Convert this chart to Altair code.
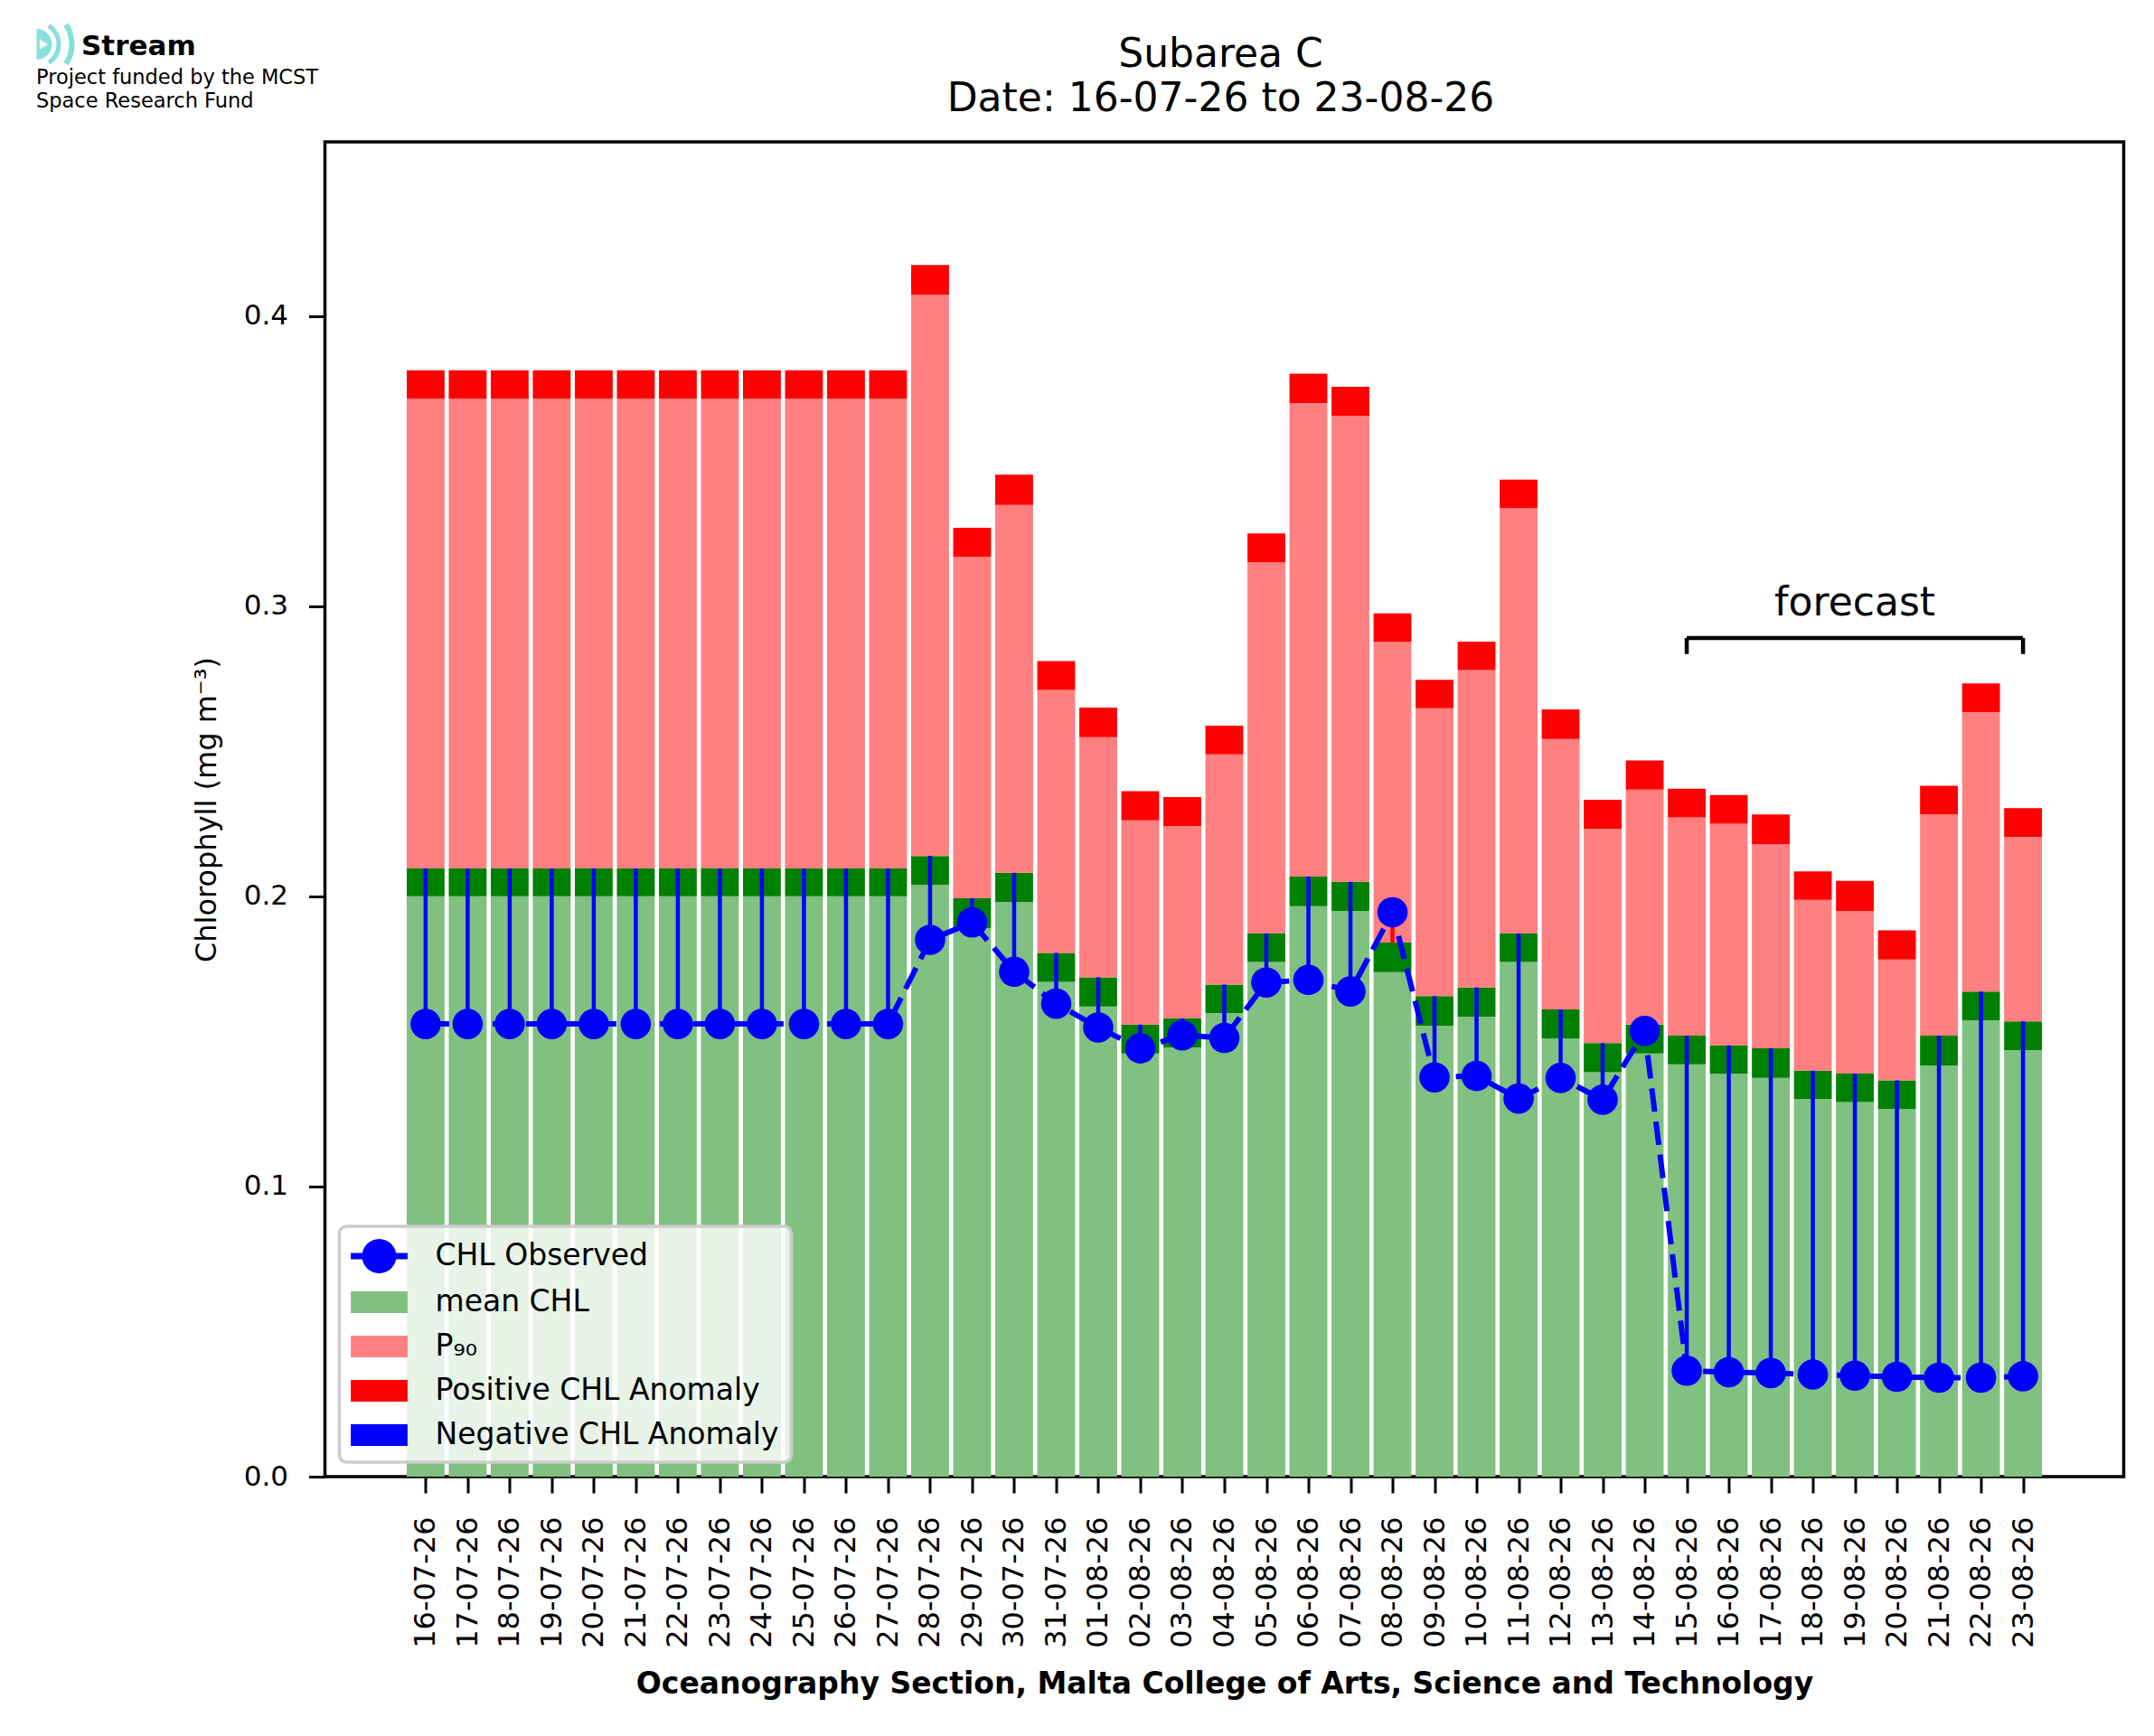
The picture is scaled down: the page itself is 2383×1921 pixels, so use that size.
import json
import altair as alt
import pandas as pd

# ---------------- data ----------------
dates = [
    "16-07-26", "17-07-26", "18-07-26", "19-07-26", "20-07-26", "21-07-26",
    "22-07-26", "23-07-26", "24-07-26", "25-07-26", "26-07-26", "27-07-26",
    "28-07-26", "29-07-26", "30-07-26", "31-07-26", "01-08-26", "02-08-26",
    "03-08-26", "04-08-26", "05-08-26", "06-08-26", "07-08-26", "08-08-26",
    "09-08-26", "10-08-26", "11-08-26", "12-08-26", "13-08-26", "14-08-26",
    "15-08-26", "16-08-26", "17-08-26", "18-08-26", "19-08-26", "20-08-26",
    "21-08-26", "22-08-26", "23-08-26",
]

# top of the light-green "mean CHL" bar
mean_chl = [
    0.200, 0.200, 0.200, 0.200, 0.200, 0.200, 0.200, 0.200, 0.200, 0.200,
    0.200, 0.200, 0.204, 0.189, 0.198, 0.1705, 0.162, 0.1458, 0.1479, 0.1598,
    0.1774, 0.1966, 0.195, 0.1739, 0.1554, 0.1585, 0.1774, 0.151, 0.1394, 0.1458,
    0.1421, 0.1388, 0.1374, 0.1301, 0.1291, 0.1267, 0.1417, 0.1573, 0.147,
]

# top of the dark-green band (anomaly threshold)
threshold = [
    0.2096, 0.2096, 0.2096, 0.2096, 0.2096, 0.2096, 0.2096, 0.2096, 0.2096, 0.2096,
    0.2096, 0.2096, 0.2139, 0.1993, 0.2081, 0.1805, 0.1721, 0.1558, 0.1579, 0.1696,
    0.1872, 0.2068, 0.205, 0.1841, 0.1656, 0.1686, 0.1872, 0.161, 0.1494, 0.1558,
    0.152, 0.1486, 0.1476, 0.1399, 0.1389, 0.1366, 0.152, 0.1672, 0.1569,
]

# top of the light-red "P90" bar
p90 = [
    0.3715, 0.3715, 0.3715, 0.3715, 0.3715, 0.3715, 0.3715, 0.3715, 0.3715, 0.3715,
    0.3715, 0.3715, 0.4073, 0.317, 0.3349, 0.2711, 0.2548, 0.2262, 0.2242, 0.2489,
    0.3151, 0.370, 0.3656, 0.2877, 0.2648, 0.278, 0.3338, 0.2542, 0.2232, 0.2368,
    0.2272, 0.225, 0.2179, 0.1988, 0.195, 0.1782, 0.2282, 0.2635, 0.2205,
]

# top of the red band above P90
p90_top = [
    0.3813, 0.3813, 0.3813, 0.3813, 0.3813, 0.3813, 0.3813, 0.3813, 0.3813, 0.3813,
    0.3813, 0.3813, 0.4176, 0.327, 0.3453, 0.2811, 0.265, 0.2362, 0.2342, 0.2588,
    0.3251, 0.3801, 0.3756, 0.2975, 0.2746, 0.2878, 0.3436, 0.2644, 0.2333, 0.2468,
    0.2371, 0.2349, 0.2282, 0.2086, 0.2053, 0.1883, 0.2381, 0.2734, 0.2304,
]

observed = [
    0.156, 0.156, 0.156, 0.156, 0.156, 0.156, 0.156, 0.156, 0.156, 0.156,
    0.156, 0.156, 0.185, 0.191, 0.174, 0.163, 0.1548, 0.1476, 0.1521, 0.1512,
    0.1703, 0.1712, 0.1672, 0.1945, 0.1376, 0.1381, 0.1303, 0.1374, 0.1299, 0.1536,
    0.0365, 0.036, 0.0357, 0.0352, 0.0348, 0.0344, 0.0341, 0.0341, 0.0346,
]

legend_labels = ["CHL Observed", "mean CHL", "P\u2089\u2080",
                 "Positive CHL Anomaly", "Negative CHL Anomaly"]
legend_colors = ["#0000ff", "#80c080", "#ff8080", "#ff0000", "#0000ff"]

forecast_first = "15-08-26"
forecast_last = "23-08-26"
forecast_bracket_y = 0.289
forecast_bracket_foot = 0.2835
forecast_text_y = 0.2967

title_lines = ["Subarea C", "Date: 16-07-26 to 23-08-26"]
x_title = "Oceanography Section, Malta College of Arts, Science and Technology"
y_title = "Chlorophyll (mg m\u207b\u00b3)"
y_ticks = [0.0, 0.1, 0.2, 0.3, 0.4]

# ---------------- tables ----------------
df = pd.DataFrame({
    "idx": list(range(len(dates))),
    "date": dates,
    "mean": mean_chl,
    "thr": threshold,
    "p90": p90,
    "p90top": p90_top,
    "obs": observed,
})

i0 = dates.index(forecast_first)
i1 = dates.index(forecast_last)
bracket_h = pd.DataFrame({"xs": [i0], "xe": [i1], "y": [forecast_bracket_y]})
bracket_v = pd.DataFrame({"x": [i0, i1], "y": [forecast_bracket_y] * 2,
                          "yb": [forecast_bracket_foot] * 2})
forecast_df = pd.DataFrame({"x": [(i0 + i1) / 2], "y": [forecast_text_y], "t": ["forecast"]})

FONT = "DejaVu Sans"
W, H = 1990, 1477
n = len(dates)
X_SCALE = alt.Scale(domain=[-0.45 - 0.05 * (n - 0.1), n - 1 + 0.45 + 0.05 * (n - 0.1)],
                    nice=False, zero=False)
Y_SCALE = alt.Scale(domain=[0, 0.46], nice=False, zero=False)

x_axis = alt.Axis(
    values=list(range(n)),
    labelExpr=json.dumps(dates) + "[datum.value]",
    labelAngle=270, labelFontSize=32, labelFont=FONT, labelColor="black",
    labelPadding=26, tickSize=18, tickWidth=3, tickColor="black",
    domain=False, grid=False,
    title=x_title, titleFont=FONT, titleFontSize=33, titleFontWeight="bold",
    titleColor="black", titlePadding=24,
)
y_axis = alt.Axis(
    values=y_ticks, format=".1f",
    labelFontSize=31, labelFont=FONT, labelColor="black", labelPadding=23,
    tickSize=18, tickWidth=3, tickColor="black", domain=False, grid=False,
    title=y_title, titleFont=FONT, titleFontSize=32, titleFontWeight="normal",
    titleColor="black", titlePadding=24,
)

base = alt.Chart(df).transform_calculate(x0="datum.idx - 0.45", x1="datum.idx + 0.45")

def band(y0, y1, color, axes=False):
    if axes:
        xe = alt.X("x0:Q", scale=X_SCALE, axis=x_axis)
        ye = alt.Y(f"{y1}:Q", scale=Y_SCALE, axis=y_axis)
    else:
        xe = alt.X("x0:Q", scale=X_SCALE)
        ye = alt.Y(f"{y1}:Q", scale=Y_SCALE)
    return base.mark_rect(color=color, opacity=1).encode(
        x=xe, x2="x1:Q", y=ye,
        y2=f"{y0}:Q" if y0 else alt.datum(0),
    )

green = band(None, "mean", "#80c080", axes=True)
dark_green = band("mean", "thr", "#008000")
light_red = band("thr", "p90", "#ff8080")
red = band("p90", "p90top", "#ff0000")

XI = alt.X("idx:Q", scale=X_SCALE)
YO = alt.Y("obs:Q", scale=Y_SCALE)

neg_stems = alt.Chart(df).transform_filter("datum.obs < datum.thr").mark_rule(
    color="#0000ff", strokeWidth=4.5).encode(x=XI, y=YO, y2="thr:Q")
pos_stems = alt.Chart(df).transform_filter("datum.obs > datum.thr").mark_rule(
    color="#ff0000", strokeWidth=4.5).encode(x=XI, y=YO, y2="thr:Q")

obs_line = alt.Chart(df).mark_line(color="#0000ff", strokeWidth=6,
                                   strokeDash=[26, 11]).encode(x=XI, y=YO)
obs_pts = alt.Chart(df).mark_circle(color="#0000ff", size=1130, opacity=1).encode(x=XI, y=YO)

br_h = alt.Chart(bracket_h).mark_rule(color="black", strokeWidth=4.5).encode(
    x=alt.X("xs:Q", scale=X_SCALE), x2="xe:Q",
    y=alt.Y("y:Q", scale=Y_SCALE))
br_v = alt.Chart(bracket_v).mark_rule(color="black", strokeWidth=4.5).encode(
    x=alt.X("x:Q", scale=X_SCALE),
    y=alt.Y("y:Q", scale=Y_SCALE), y2="yb:Q")
fc_text = alt.Chart(forecast_df).mark_text(
    font=FONT, fontSize=44, color="black", align="center", baseline="alphabetic").encode(
    x=alt.X("x:Q", scale=X_SCALE),
    y=alt.Y("y:Q", scale=Y_SCALE), text="t:N")

# legend (built from a colour + shape scale; no marks drawn for it)
circle_line = ("M-1.57,-0.17H1.57V0.17H-1.57Z "
               "M0.95,0A0.95,0.95 0 1 1 -0.95,0A0.95,0.95 0 1 1 0.95,0Z")
patch = "M-1.57,-0.6H1.57V0.6H-1.57Z"
legend_shapes = [circle_line, patch, patch, patch, patch]
leg = alt.Legend(
    orient="bottom-left", offset=16, padding=13, title=None,
    fillColor="rgba(255,255,255,0.8)", strokeColor="#cccccc",
    cornerRadius=8, symbolSize=1600, symbolOffset=11, symbolStrokeWidth=0,
    labelOffset=42, rowPadding=12, labelFontSize=33, labelFont=FONT,
    labelColor="black", labelLimit=2000, symbolOpacity=1,
)
legend_layer = alt.Chart(pd.DataFrame({"label": legend_labels})).transform_filter(
    "false").mark_point(filled=True, opacity=1).encode(
    color=alt.Color("label:N", scale=alt.Scale(domain=legend_labels, range=legend_colors),
                    legend=leg, title=None),
    shape=alt.Shape("label:N", scale=alt.Scale(domain=legend_labels, range=legend_shapes),
                    legend=leg, title=None),
)

# title and logo block (outside the plot)
one = pd.DataFrame({"k": [0]})
CYAN = "#86e0dc"
title_marks = [
    alt.Chart(one).mark_text(text=title_lines[0], font=FONT, fontSize=44, align="center",
                             baseline="alphabetic", color="black").encode(
        x=alt.value(W / 2 - 4), y=alt.value(-83.5)),
    alt.Chart(one).mark_text(text=title_lines[1], font=FONT, fontSize=44, align="center",
                             baseline="alphabetic", color="black").encode(
        x=alt.value(W / 2 - 4), y=alt.value(-34)),
]
logo_parts = [
    alt.Chart(one).mark_arc(theta=0, theta2=3.1416, radius=17, radius2=0,
                            color=CYAN).encode(x=alt.value(-319), y=alt.value(-108)),
    alt.Chart(one).mark_arc(theta=0.59, theta2=2.55, radius=27, radius2=22,
                            color=CYAN).encode(x=alt.value(-319), y=alt.value(-108)),
    alt.Chart(one).mark_arc(theta=0.98, theta2=2.16, radius=42, radius2=36,
                            color=CYAN).encode(x=alt.value(-319), y=alt.value(-108)),
    alt.Chart(one).mark_point(shape="triangle-right", filled=True, size=110,
                              color="white", opacity=1).encode(
        x=alt.value(-311), y=alt.value(-108)),
    alt.Chart(one).mark_text(text="Stream", font=FONT, fontSize=31, fontWeight="bold",
                             align="left", baseline="alphabetic", color="black").encode(
        x=alt.value(-269.5), y=alt.value(-96)),
    alt.Chart(one).mark_text(text="Project funded by the MCST", font=FONT, fontSize=22.5,
                             align="left", baseline="alphabetic", color="black").encode(
        x=alt.value(-319.5), y=alt.value(-64)),
    alt.Chart(one).mark_text(text="Space Research Fund", font=FONT, fontSize=22.5,
                             align="left", baseline="alphabetic", color="black").encode(
        x=alt.value(-319.5), y=alt.value(-38)),
]

chart = alt.layer(
    green, dark_green, light_red, red,
    neg_stems, pos_stems, obs_line, obs_pts,
    br_h, br_v, fc_text, legend_layer, *title_marks, *logo_parts,
).properties(
    width=W, height=H,
    autosize=alt.AutoSizeParams(type="none"),
    padding={"left": 351.5, "top": 149, "right": 25, "bottom": 260},
    background="white",
).configure_view(stroke="black", strokeWidth=3.5).configure_legend(strokeWidth=3.5)

chart.save("out.html", embed_options={"renderer": "svg", "actions": False})
